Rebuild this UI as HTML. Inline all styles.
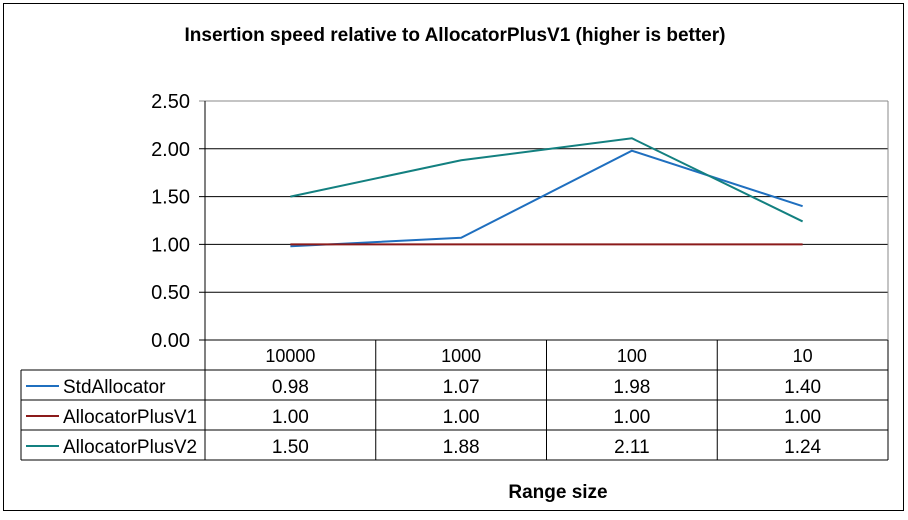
<!DOCTYPE html>
<html><head><meta charset="utf-8"><style>
body{margin:0;background:#fff;font-family:"Liberation Sans",sans-serif}
svg text{font-family:"Liberation Sans",sans-serif}
</style></head><body>
<svg id="chart" width="908" height="515">
<rect x="3.5" y="3.5" width="900" height="507" fill="#fff" stroke="#000"/>
<text x="455" y="41" text-anchor="middle" font-size="19" font-weight="bold">Insertion speed relative to AllocatorPlusV1 (higher is better)</text>
<text x="558" y="498" text-anchor="middle" font-size="19" font-weight="bold">Range size</text>
<g id="grid"></g><g id="series"></g><g id="table"></g>
</svg>
<script>
const categories=["10000","1000","100","10"];
const seriesNames=["StdAllocator","AllocatorPlusV1","AllocatorPlusV2"];
const stdValues=[0.98,1.07,1.98,1.40];
const v1Values=[1.00,1.00,1.00,1.00];
const v2Values=[1.50,1.88,2.11,1.24];
const yTicks=[0,0.5,1,1.5,2,2.5];
const colors=["#1f6fbf","#8b1a1a","#138080"];
const NS="http://www.w3.org/2000/svg";
const L=205,R=888,T=101,B=340,yMax=2.5;
const colW=(R-L)/categories.length;
const x=i=>L+colW*(i+0.5);
const y=v=>B-(v/yMax)*(B-T);
function mk(tag,attrs,parent,txt){const e=document.createElementNS(NS,tag);for(const k in attrs)e.setAttribute(k,attrs[k]);if(txt!=null)e.textContent=txt;parent.appendChild(e);return e;}
const grid=document.getElementById('grid');
yTicks.forEach((t,i)=>{
 const g=mk('line',{x1:L-6,x2:R,y1:y(t),y2:y(t),stroke:i===yTicks.length-1?'#888':'#000'},grid);
 
 
 const lb=mk('text',{x:L-15,y:y(t)+7,'text-anchor':'end','font-size':20},grid,t.toFixed(2));
 
 
});
mk('line',{x1:L,x2:L,y1:T,y2:B,stroke:'#000'},grid);
mk('line',{x1:R,x2:R,y1:T,y2:B,stroke:'#888'},grid);
const sg=document.getElementById('series');
[stdValues,v1Values,v2Values].forEach((vals,s)=>{
 const p=mk('polyline',{points:vals.map((v,i)=>x(i)+','+y(v)).join(' '),fill:'none',stroke:colors[s],'stroke-width':2},sg);
 
 
});
const tb=document.getElementById('table');
const rowY=[340,370,400,430,460];
const TL=21;
for(let i=0;i<=categories.length;i++)mk('line',{x1:L+colW*i,x2:L+colW*i,y1:340,y2:460,stroke:'#000'},tb);
mk('line',{x1:TL,x2:TL,y1:370,y2:460,stroke:'#000'},tb);
[370,400,430,460].forEach(yy=>mk('line',{x1:TL,x2:R,y1:yy,y2:yy,stroke:'#000'},tb));
categories.forEach((c,i)=>{
 const t=mk('text',{x:x(i),y:362,'text-anchor':'middle','font-size':18},tb,c);
 
 
});
[stdValues,v1Values,v2Values].forEach((vals,s)=>{
 const cy=rowY[s+1]+23;
 mk('line',{x1:26,x2:59,y1:cy-7,y2:cy-7,stroke:colors[s],'stroke-width':2},tb);
 const n=mk('text',{x:63,y:cy,'font-size':19},tb,seriesNames[s]);
 
 
 vals.forEach((v,i)=>{
  const t=mk('text',{x:x(i),y:cy,'text-anchor':'middle','font-size':19},tb,v.toFixed(2));
  
  
 });
});
</script>
</body></html>
